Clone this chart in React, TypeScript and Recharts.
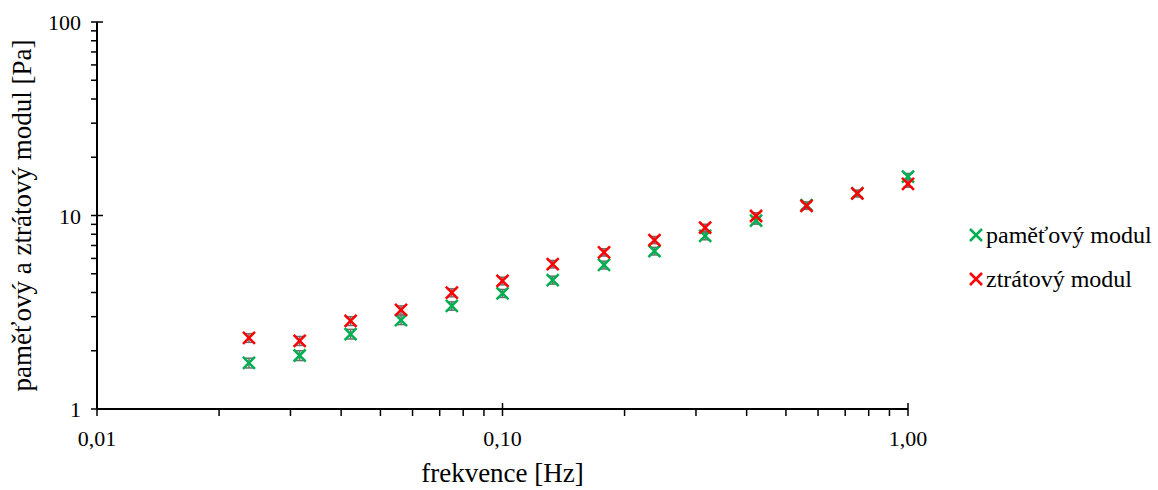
import React from 'react'
import { ScatterChart, Scatter, XAxis, YAxis, ErrorBar } from 'recharts'

// frekvence [Hz] – 8 bodů na dekádu
const freq = [0.0237, 0.0316, 0.0422, 0.0562, 0.075, 0.1, 0.133, 0.178, 0.237, 0.316, 0.422, 0.562, 0.75, 1.0]
// paměťový modul G' [Pa]
const storage = [1.73, 1.89, 2.44, 2.88, 3.41, 3.96, 4.64, 5.55, 6.55, 7.84, 9.42, 11.3, 13.0, 15.9]
// ztrátový modul G'' [Pa]
const loss = [2.33, 2.25, 2.85, 3.25, 3.99, 4.59, 5.61, 6.45, 7.47, 8.65, 9.94, 11.2, 13.0, 14.55]
// směrodatné odchylky (šedé chybové úsečky)
const storageErr = [0.1, 0.11, 0.14, 0.15, 0.17, 0.19, 0.22, 0.26, 0.3, 0.35, 0.4, 0.45, 0.5, 0.6]
const lossErr = [0.12, 0.12, 0.15, 0.16, 0.19, 0.21, 0.25, 0.28, 0.32, 0.36, 0.4, 0.45, 0.5, 0.55]

const xTicks = [0.01, 0.02, 0.03, 0.04, 0.05, 0.06, 0.07, 0.08, 0.09, 0.1, 0.2, 0.3, 0.4, 0.5, 0.6, 0.7, 0.8, 0.9, 1]
const yTicks = [1, 2, 3, 4, 5, 6, 7, 8, 9, 10, 20, 30, 40, 50, 60, 70, 80, 90, 100]

const GREEN = '#00b050'
const RED = '#ff0000'
const FONT = '"Liberation Serif", "Times New Roman", serif'

const storageData = freq.map((f, i) => ({ x: f, y: storage[i], err: storageErr[i] }))
const lossData = freq.map((f, i) => ({ x: f, y: loss[i], err: lossErr[i] }))

const isMajor = (v: number) => {
  const l = Math.log10(v)
  return Math.abs(l - Math.round(l)) < 1e-6
}

const XTick = (props: any) => {
  const { x, y, payload } = props
  const major = isMajor(payload.value)
  return (
    <g>
      <line x1={x} x2={x} y1={major ? y - 6 : y} y2={y + 7} stroke="#000" strokeWidth={1.5} />
      {major && (
        <text x={x} y={y + 37} textAnchor="middle" fontSize={22} fontFamily={FONT} fill="#000">
          {payload.value.toFixed(2).replace('.', ',')}
        </text>
      )}
    </g>
  )
}

const YTick = (props: any) => {
  const { x, y, payload } = props
  const major = isMajor(payload.value)
  return (
    <g>
      <line x1={x - 6} x2={major ? x + 6 : x} y1={y} y2={y} stroke="#000" strokeWidth={1.5} />
      {major && (
        <text x={x - 16} y={y + 8} textAnchor="end" fontSize={22} fontFamily={FONT} fill="#000">
          {payload.value}
        </text>
      )}
    </g>
  )
}

const cross = (color: string) => (props: any) => {
  const { cx, cy } = props
  const r = 6
  return (
    <path
      d={`M${cx - r},${cy - r}L${cx + r},${cy + r}M${cx - r},${cy + r}L${cx + r},${cy - r}`}
      stroke={color}
      strokeWidth={2.5}
      fill="none"
    />
  )
}

const LegendMark = ({ color }: { color: string }) => (
  <svg width={14} height={14} style={{ marginRight: 3 }}>
    <path d="M1,1L13,13M1,13L13,1" stroke={color} strokeWidth={2.5} />
  </svg>
)

export default function App() {
  return (
    <div style={{ position: 'absolute', left: 0, top: 0, width: 1158, height: 490 }}>
      <ScatterChart width={1158} height={490} margin={{ top: 22, right: 250, bottom: 0, left: 0 }}>
        <XAxis
          type="number"
          dataKey="x"
          scale="log"
          domain={[0.01, 1]}
          ticks={xTicks}
          interval={0}
          tickSize={0}
          tickMargin={0}
          tick={<XTick />}
          height={81}
          axisLine={{ stroke: '#000', strokeWidth: 2 }}
          label={{
            content: (p: any) => (
              <text
                x={p.viewBox.x + p.viewBox.width / 2}
                y={p.viewBox.y + 73}
                textAnchor="middle"
                fontSize={27}
                fontFamily={FONT}
                fill="#000"
              >
                frekvence [Hz]
              </text>
            ),
          }}
        />
        <YAxis
          type="number"
          dataKey="y"
          scale="log"
          domain={[1, 100]}
          ticks={yTicks}
          interval={0}
          tickSize={0}
          tickMargin={0}
          tick={<YTick />}
          width={97}
          axisLine={{ stroke: '#000', strokeWidth: 2 }}
          label={{
            content: (p: any) => {
              const cy = p.viewBox.y + p.viewBox.height / 2
              return (
                <text
                  x={31}
                  y={cy}
                  transform={`rotate(-90, 31, ${cy})`}
                  textAnchor="middle"
                  fontSize={27}
                  fontFamily={FONT}
                  fill="#000"
                >
                  paměťový a ztrátový modul [Pa]
                </text>
              )
            },
          }}
        />
        <Scatter data={storageData} shape={cross(GREEN)} isAnimationActive={false}>
          <ErrorBar dataKey="err" direction="y" width={5} stroke="#707070" strokeWidth={1.5} />
        </Scatter>
        <Scatter data={lossData} shape={cross(RED)} isAnimationActive={false}>
          <ErrorBar dataKey="err" direction="y" width={5} stroke="#707070" strokeWidth={1.5} />
        </Scatter>
      </ScatterChart>
      <div
        style={{
          position: 'absolute',
          left: 969,
          top: 220,
          fontFamily: FONT,
          fontSize: 24,
          color: '#000',
          lineHeight: '42px',
        }}
      >
        <div style={{ display: 'flex', alignItems: 'center', height: 30 }}>
          <LegendMark color={GREEN} />
          <span>paměťový modul</span>
        </div>
        <div style={{ display: 'flex', alignItems: 'center', height: 30, marginTop: 14 }}>
          <LegendMark color={RED} />
          <span>ztrátový modul</span>
        </div>
      </div>
    </div>
  )
}
